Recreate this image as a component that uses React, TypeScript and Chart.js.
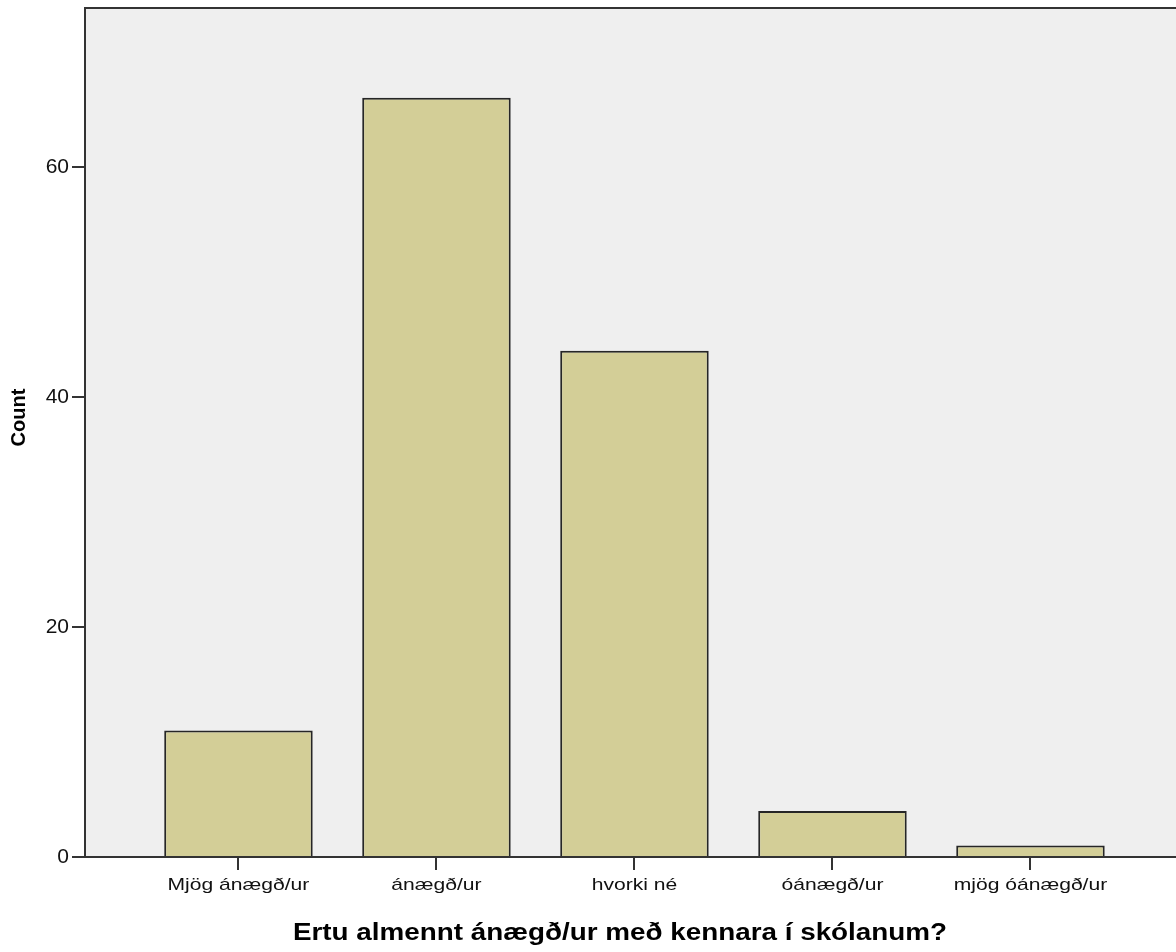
import React, { useEffect, useRef } from 'react';
import { Chart, registerables } from 'chart.js';

Chart.register(...registerables);

const categories = ['Mjög ánægð/ur', 'ánægð/ur', 'hvorki né', 'óánægð/ur', 'mjög óánægð/ur'];
const counts = [11, 66, 44, 4, 1];
const yTickValues = [0, 20, 40, 60];
const xTitle = 'Ertu almennt ánægð/ur með kennara í skólanum?';
const yTitle = 'Count';

const drawStretched = (ctx: any, text: string, x: number, y: number, sx: number) => {
  ctx.save();
  ctx.translate(x, y);
  ctx.scale(sx, 1);
  ctx.textAlign = 'center';
  ctx.fillText(text, 0, 0);
  ctx.restore();
};

const plotDecor = {
  id: 'plotDecor',
  beforeDraw(chart: any) {
    const { ctx, chartArea } = chart;
    ctx.save();
    ctx.fillStyle = '#efefef';
    ctx.fillRect(chartArea.left, chartArea.top, chartArea.right - chartArea.left, chartArea.bottom - chartArea.top);
    ctx.restore();
  },
  afterDraw(chart: any) {
    const { ctx, chartArea, scales } = chart;
    ctx.save();
    // top frame line
    ctx.strokeStyle = '#333333';
    ctx.lineWidth = 2;
    ctx.beginPath();
    ctx.moveTo(chartArea.left - 1, chartArea.top);
    ctx.lineTo(chartArea.right, chartArea.top);
    ctx.stroke();

    // x tick labels
    ctx.fillStyle = '#111111';
    ctx.textBaseline = 'alphabetic';
    ctx.font = '17px "Liberation Sans", Arial, sans-serif';
    categories.forEach((c, i) => {
      drawStretched(ctx, c, scales.x.getPixelForValue(i), 890, 1.24);
    });

    // x title
    ctx.fillStyle = '#000000';
    ctx.font = 'bold 23px "Liberation Sans", Arial, sans-serif';
    drawStretched(ctx, xTitle, 620, 940, 1.21);

    // y title
    ctx.save();
    ctx.translate(25, 417.5);
    ctx.rotate(-Math.PI / 2);
    ctx.font = 'bold 20px "Liberation Sans", Arial, sans-serif';
    ctx.textAlign = 'center';
    ctx.textBaseline = 'alphabetic';
    ctx.fillText(yTitle, 0, 0);
    ctx.restore();

    ctx.restore();
  },
};

export default function App() {
  const ref = useRef<HTMLCanvasElement>(null);
  useEffect(() => {
    if (!ref.current) return;
    const chart = new Chart(ref.current, {
      type: 'bar',
      data: {
        datasets: [
          {
            data: counts.map((c, i) => ({ x: i, y: c })),
            backgroundColor: '#d3ce97',
            borderColor: '#262626',
            borderWidth: 2,
            categoryPercentage: 1,
            barPercentage: 0.75,
          },
        ],
      },
      options: {
        responsive: false,
        animation: false,
        layout: { padding: { top: 8, left: 0, right: 0, bottom: 0 } },
        plugins: { legend: { display: false }, tooltip: { enabled: false } },
        scales: {
          x: {
            type: 'linear',
            offset: false,
            min: -0.775,
            max: 4.735,
            afterBuildTicks: (s: any) => {
              s.ticks = categories.map((_, i) => ({ value: i }));
            },
            afterFit: (s: any) => {
              s.height = 95;
              s.paddingLeft = 0;
              s.paddingRight = 0;
            },
            ticks: { display: false },
            grid: { offset: false, drawOnChartArea: false, drawTicks: true, tickLength: 13, color: '#333333', lineWidth: 2 },
            border: { display: true, color: '#333333', width: 2 },
            title: { display: false },
          },
          y: {
            type: 'linear',
            min: 0,
            max: 73.8,
            afterBuildTicks: (s: any) => {
              s.ticks = yTickValues.map((v) => ({ value: v }));
            },
            afterFit: (s: any) => {
              s.width = 85;
              s.paddingTop = 0;
              s.paddingBottom = 0;
            },
            ticks: {
              color: '#111111',
              font: { family: '"Liberation Sans", Arial, sans-serif', size: 21 },
              padding: 3,
            },
            grid: { drawOnChartArea: false, drawTicks: true, tickLength: 13, color: '#333333', lineWidth: 2 },
            border: { display: true, color: '#333333', width: 2 },
            title: { display: false },
          },
        },
      },
      plugins: [plotDecor],
    });
    return () => chart.destroy();
  }, []);
  return (
    <div style={{ position: 'absolute', left: 0, top: 0, width: 1176, height: 952, background: '#fff' }}>
      <canvas ref={ref} width={1176} height={952} style={{ display: 'block' }} />
    </div>
  );
}
